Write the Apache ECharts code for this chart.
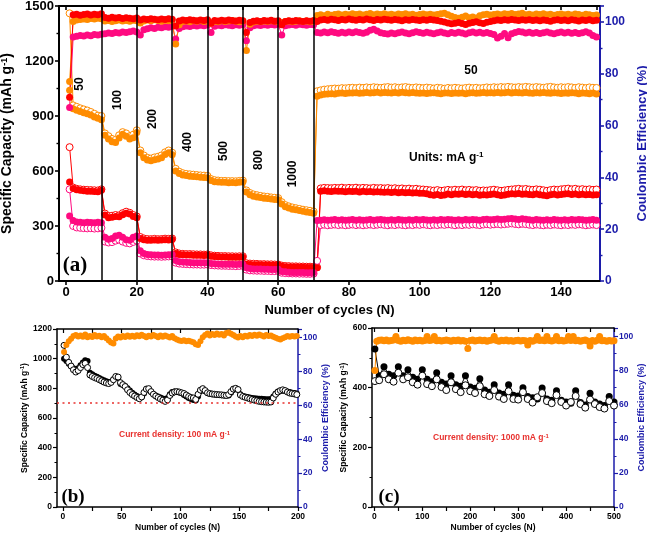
<!DOCTYPE html>
<html><head><meta charset="utf-8">
<script src="https://cdn.jsdelivr.net/npm/echarts@6.0.0/dist/echarts.min.js"></script>
<style>html,body{margin:0;padding:0;background:#fff}#c{width:647px;height:536px}</style>
</head><body><div id="c"></div>
<script>
// ---------- Panel (a): rate capability, cycles 1..150 ----------
const cyclesA = []; for (let i = 1; i <= 150; i++) cyclesA.push(i);
const rateLines = [10, 20, 30, 40, 50, 60, 70];
const rateLabels = ['50', '100', '200', '400', '500', '800', '1000'];
const xTicksA = [0, 20, 40, 60, 80, 100, 120, 140];
const xTopTicksA = [0,10,20,30,40,50,60,70,80,90,100,110,120,130,140,150];

const orangeCharge = [1040,940,932,925,918,912,905,895,888,880,
795,775,760,755,780,800,790,775,782,810,
700,672,660,656,662,666,672,690,700,688,
600,586,578,575,572,570,568,566,565,563,
548,542,540,538,538,536,537,536,538,540,
485,470,462,458,455,452,450,447,445,443,
420,405,398,392,388,384,380,377,374,370,
1008,1015,1018,1020,1022,1020,1024,1025,1023,1026,
1025,1027,1024,1026,1028,1025,1027,1029,1026,1028,
1027,1025,1028,1026,1029,1027,1025,1028,1026,1024,
1026,1023,1025,1027,1024,1022,1025,1026,1023,1025,
1024,1026,1022,1025,1027,1024,1026,1028,1025,1027,
1026,1028,1025,1027,1029,1026,1028,1027,1025,1028,
1026,1024,1027,1025,1028,1026,1024,1027,1025,1023,
1026,1024,1027,1025,1022,1026,1024,1021,1025,1020];
const orangeDischarge = [1460,958,950,942,936,930,922,912,902,900,
805,790,775,770,795,812,805,790,798,822,
712,685,672,668,674,678,685,702,712,700,
612,596,588,584,582,580,578,576,575,573,
556,550,548,546,546,545,545,544,546,548,
494,480,472,468,464,461,459,456,454,452,
430,414,407,401,397,393,389,386,383,379,
1035,1040,1044,1046,1048,1050,1049,1052,1051,1053,
1054,1052,1055,1053,1056,1054,1057,1055,1053,1056,
1058,1055,1057,1054,1056,1058,1055,1053,1056,1054,
1052,1055,1053,1050,1054,1052,1049,1053,1051,1054,
1052,1050,1053,1055,1052,1054,1051,1053,1056,1054,
1057,1055,1058,1056,1059,1057,1055,1058,1056,1059,
1057,1055,1058,1056,1054,1057,1059,1056,1054,1057,
1055,1058,1056,1053,1057,1055,1052,1056,1054,1053];
const orangeCE = [77,100.2,100.8,101.0,101.2,101.0,101.4,101.2,101.5,101.3,
100.4,100.6,100.2,100.5,100.8,100.4,100.6,100.3,100.7,100.5,
99.6,100.4,100.8,100.5,100.9,100.6,100.3,100.7,100.5,100.8,
91.5,99.0,100.2,100.4,100.1,100.5,100.3,100.6,100.2,100.4,
99.5,100.3,100.1,100.5,100.2,100.4,100.6,100.3,100.1,100.4,
89.0,99.2,100.0,100.3,100.1,100.4,100.2,100.5,100.3,100.1,
99.8,100.2,100.4,100.1,100.3,100.5,100.2,100.4,100.1,100.3,
102.5,102.8,102.4,103.0,102.6,102.9,103.1,102.7,103.0,102.8,
103.2,102.9,103.1,102.7,103.0,103.3,102.8,103.1,102.9,103.2,
102.8,103.0,102.7,103.1,102.9,103.2,102.8,103.0,102.6,102.9,
103.1,102.8,103.0,102.7,102.9,103.2,103.4,102.8,102.2,101.8,
101.5,101.9,102.3,101.7,102.0,101.6,102.4,102.8,103.0,102.7,
102.9,103.1,102.8,103.2,103.0,103.3,102.9,103.1,103.4,102.8,
103.0,102.7,103.1,102.9,103.2,102.8,103.0,102.6,102.9,103.1,
102.8,103.0,102.7,103.1,102.9,102.6,103.0,102.8,102.5,102.7];

const redCharge = [540,505,498,495,492,490,490,488,487,495,
360,345,348,352,350,362,370,365,352,345,
232,225,222,222,224,222,223,225,224,226,
150,145,143,142,142,141,140,140,139,140,
135,133,132,131,131,130,130,129,130,130,
92,90,89,88,88,87,87,86,86,86,
80,78,77,76,76,75,75,74,74,73,
72,490,492,490,488,491,489,490,487,489,
488,490,486,489,487,488,485,487,486,484,
486,483,485,482,484,481,483,480,482,479,
478,476,470,468,472,466,469,474,471,475,
473,476,472,474,470,473,468,471,469,472,
475,471,466,469,473,476,474,477,473,475,
472,470,474,471,468,465,470,473,469,472,
474,476,472,475,471,473,470,472,469,471];
const redDischarge = [730,510,503,500,498,497,496,495,494,500,
368,355,356,360,358,370,378,372,360,352,
240,232,229,228,230,228,229,231,230,232,
156,150,148,147,147,146,145,145,144,145,
140,138,137,136,136,135,135,134,135,135,
97,95,94,93,92,92,91,91,90,90,
84,82,81,80,80,79,79,78,78,77,
75,505,508,507,506,508,507,509,506,508,
507,509,506,508,507,505,508,506,507,505,
507,504,506,503,505,502,504,501,503,500,
499,497,495,493,496,492,494,497,495,498,
496,499,495,497,494,496,492,494,493,496,
498,495,492,494,497,499,501,503,500,502,
499,497,500,498,495,492,496,499,497,500,
502,504,500,503,499,501,498,500,497,499];
const redCE = [71,102.8,103.0,102.6,102.9,103.1,102.7,103.0,102.8,103.2,
101.8,101.5,101.9,101.6,101.8,101.4,101.7,101.5,101.3,101.6,
100.8,101.2,101.0,101.3,101.1,100.9,101.2,101.0,101.3,101.1,
98.5,100.4,100.8,100.6,100.9,100.7,100.5,100.8,100.6,100.9,
99.5,100.6,100.4,100.7,100.5,100.8,100.6,100.4,100.7,100.5,
96.0,99.8,100.3,100.5,100.2,100.6,100.4,100.7,100.3,100.5,
99.0,100.2,100.5,100.3,100.6,100.4,100.2,100.5,100.3,100.6,
100.2,100.8,101.0,100.7,101.1,100.9,100.6,101.0,100.8,101.2,
100.9,100.7,101.0,100.8,101.2,100.9,100.6,101.0,100.8,101.1,
100.9,100.7,101.0,100.8,100.5,100.9,100.7,101.0,100.8,100.6,
100.9,100.7,101.0,100.8,100.6,100.3,100.0,99.6,99.3,99.5,
99.8,99.4,99.1,99.5,99.8,100.1,99.7,99.4,99.9,100.2,
100.5,100.8,100.6,100.9,100.7,101.0,100.8,100.6,100.9,100.7,
100.9,100.6,100.8,100.5,100.8,100.6,100.3,100.7,100.9,100.6,
100.8,100.5,100.9,100.7,100.4,100.8,100.6,100.9,100.5,100.7];

const pinkCharge = [355,330,322,320,318,320,319,318,320,318,
238,228,232,245,250,238,225,222,238,245,
165,150,145,143,142,142,141,142,143,145,
112,105,103,102,101,100,100,99,99,100,
96,94,93,92,92,91,91,90,91,92,
72,68,66,65,65,64,64,63,63,64,
52,50,48,47,47,46,46,45,45,46,
330,332,334,331,333,335,332,334,331,333,
335,332,334,331,333,335,332,334,336,333,
331,334,332,335,333,331,334,332,335,333,
336,333,331,334,332,335,333,336,334,331,
334,332,335,333,336,334,332,335,337,334,
336,338,335,337,339,341,338,336,339,337,
334,332,335,333,331,334,332,335,333,331,
334,332,335,333,336,334,331,333,335,332];
const pinkDischarge = [500,300,292,290,288,287,288,286,287,290,
215,210,212,220,225,215,208,205,213,220,
150,140,136,134,133,133,132,133,134,135,
100,95,93,92,91,90,90,89,89,90,
87,85,84,83,83,82,82,81,82,83,
62,58,57,56,56,55,55,54,54,55,
45,43,42,41,41,40,40,39,39,40,
110,305,307,304,306,308,305,307,304,306,
308,305,307,304,306,308,305,307,309,306,
304,307,305,308,306,304,307,305,308,306,
309,306,304,307,305,308,306,309,307,304,
307,305,308,306,309,307,305,308,310,307,
309,311,308,310,312,314,311,309,312,310,
307,305,308,306,304,307,305,308,306,304,
307,305,308,306,309,307,304,306,308,305];
const pinkCE = [67,94.2,94.5,94.8,94.6,95.0,94.7,95.2,95.0,95.3,
95.5,95.8,95.6,96.0,95.8,96.2,96.0,96.3,96.5,96.2,
95.0,97.0,97.4,97.8,97.5,98.0,97.8,98.2,98.0,98.4,
93.5,97.5,98.2,98.5,98.3,98.7,98.5,98.8,98.6,98.9,
96.0,98.4,98.8,98.6,99.0,98.8,98.6,99.0,98.8,99.1,
92.8,97.8,98.6,98.9,98.7,99.0,98.8,99.1,98.9,99.2,
95.0,98.6,98.9,99.1,98.8,99.2,99.0,98.8,99.1,99.0,
96.0,95.8,96.2,95.9,96.3,96.0,95.7,96.1,95.8,96.2,
95.9,96.3,96.0,95.7,96.1,96.8,97.2,96.5,95.9,95.6,
95.4,95.8,95.5,95.9,96.2,95.8,95.5,95.9,96.3,96.0,
95.7,96.1,95.8,95.5,95.9,96.2,95.8,95.5,96.0,95.7,
96.1,95.8,95.4,95.9,96.2,95.8,96.1,95.7,96.0,95.6,
95.2,93.8,94.5,95.6,93.9,95.5,96.0,96.4,96.2,95.8,
96.1,95.7,96.0,95.6,95.9,96.2,95.8,95.5,95.9,96.2,
95.8,96.1,95.7,96.0,95.6,95.9,96.3,95.8,94.8,94.2];

// ---------- Panel (b): 100 mA/g, cycles 1..199 (every 2nd) ----------
const cyclesB = []; for (let i = 1; i < 200; i += 2) cyclesB.push(i);
const xLabelsB = [0, 50, 100, 150, 200];
const xTicksB = [0, 25, 50, 75, 100, 125, 150, 175, 200];
const refLineB = 700;
const chargeB = [1000,985,965,950,935,925,935,955,975,990,
985,905,895,885,878,870,862,855,848,842,
845,862,878,870,830,822,815,800,785,770,
758,748,738,740,765,790,795,775,762,752,
745,738,732,728,735,760,775,778,775,772,
768,755,745,735,728,722,718,745,780,792,
780,768,762,760,758,756,755,754,752,750,
752,770,788,795,790,760,748,745,742,738,
735,733,732,730,729,728,727,726,728,745,
765,778,782,785,782,778,775,770,768,765];
const dischargeB = [1090,1010,975,950,925,910,920,940,960,968,
940,890,880,872,866,858,850,842,836,832,
840,858,880,876,838,825,812,790,772,758,
748,738,730,742,772,795,798,778,760,748,
738,728,720,712,722,752,768,776,778,775,
770,765,755,745,738,735,725,760,788,798,
785,770,765,762,760,758,757,756,754,752,
758,778,795,800,792,755,745,740,735,730,
725,720,716,712,710,708,707,706,708,735,
760,775,785,790,785,775,768,765,762,758];
const ceB = [91.5,95.5,97.8,99.2,100.8,101.5,100.6,101.2,100.4,101.8,
100.2,100.9,100.3,101.4,100.6,101.0,100.2,100.8,99.6,98.2,
97.0,96.5,99.4,100.6,100.0,100.9,100.3,101.2,100.5,101.0,
100.4,101.3,100.7,101.6,100.8,100.2,101.0,100.6,101.4,100.8,
100.2,101.1,100.5,101.2,100.6,100.0,100.8,99.6,98.8,98.2,
97.9,98.3,97.8,98.1,97.6,97.2,96.0,95.6,97.8,100.2,
101.5,102.3,101.2,102.0,101.4,102.4,101.6,102.0,101.2,102.6,
103.0,102.2,101.4,100.6,100.0,100.8,100.2,101.0,100.6,101.4,
100.8,101.6,101.0,101.8,101.2,100.6,101.4,100.8,101.2,100.4,
99.8,99.2,98.8,99.6,100.2,100.8,100.4,100.8,100.6,100.8];

// ---------- Panel (c): 1000 mA/g, cycles 1..500 ----------
const cyclesC = [1,10,20,30,40,50,60,70,80,90,100,110,120,130,140,150,160,170,180,190,200,
210,220,230,240,250,260,270,280,290,300,310,320,330,340,350,360,370,380,390,400,
410,420,430,440,450,460,470,480,490,500];
const cyclesCE = [1]; for (let i = 5; i <= 500; i += 5) cyclesCE.push(i);
const xLabelsC = [0, 100, 200, 300, 400, 500];
const xTicksC = [0,50,100,150,200,250,300,350,400,450,500];
const chargeC = [530,440,470,445,440,470,440,460,435,428,460,428,420,450,418,412,440,410,405,440,402,
398,430,392,385,410,382,378,410,375,372,400,370,366,362,399,362,358,390,358,352,
348,390,350,342,381,352,345,340,370,352];
const dischargeC = [422,425,445,428,420,450,428,435,418,410,440,412,405,428,402,392,418,395,385,408,388,
382,405,378,372,392,370,362,388,362,360,385,362,350,368,382,355,348,375,352,340,
352,372,345,333,360,345,335,330,355,340];
const ceC = [80,
97.2,97.8,98.0,97.5,97.9,97.4,97.7,97.9,100.0,97.6,
97.3,97.8,97.5,98.1,97.6,97.3,97.9,97.5,97.8,97.4,
97.7,100.0,97.6,97.9,100.0,97.5,97.8,97.4,97.7,98.0,
97.6,97.3,97.8,97.5,97.9,97.4,97.7,97.3,93.0,97.6,
97.9,97.4,97.7,98.0,97.5,97.8,97.3,97.7,97.9,100.0,
97.6,97.3,97.8,97.5,97.9,97.4,97.7,97.3,97.6,97.8,
97.4,97.7,97.5,95.0,97.6,97.3,97.8,100.0,97.6,97.9,
97.5,100.0,97.7,97.4,97.8,100.0,97.5,97.8,97.4,97.7,
100.0,97.6,100.0,97.5,97.8,97.3,97.7,97.9,97.4,94.5,
97.6,97.3,97.8,100.0,97.5,97.7,97.3,97.6,97.4,97.5];

// ---------- build ----------
const ORANGE = '#ff8c00', RED = '#ff0000', PINK = '#ff0a80', BLUE = '#1c1caa';
const FF = '"Liberation Sans", Arial, sans-serif';
const pair = (xs, ys) => ys.map((v, i) => [xs[i], v]);
const plain = v => String(v);

function ser(xi, yi, xs, ys, color, filled, size, z) {
  return {
    type: 'line', xAxisIndex: xi, yAxisIndex: yi, data: pair(xs, ys),
    symbol: 'circle', symbolSize: size, showSymbol: true, z: z || 2,
    lineStyle: { color: color, width: 1 },
    itemStyle: filled ? { color: color } : { color: '#fff', borderColor: color, borderWidth: 1 },
    animation: false, silent: true
  };
}

function xAx(grid, min, max, labels, ticks, fs, lw, name, gap) {
  return {
    gridIndex: grid, type: 'value', min: min, max: max, position: 'bottom',
    axisLine: { show: true, onZero: false, lineStyle: { color: '#000', width: lw } },
    axisTick: { show: true, inside: false, length: 4, customValues: ticks, lineStyle: { color: '#000', width: lw * 0.8 } },
    axisLabel: { customValues: labels, formatter: plain, color: '#000', fontSize: fs, fontWeight: 'bold', fontFamily: FF, margin: 5 },
    splitLine: { show: false },
    name: name, nameLocation: 'middle', nameGap: gap,
    nameTextStyle: { color: '#000', fontSize: fs, fontWeight: 'bold', fontFamily: FF }
  };
}
function xTop(grid, min, max, ticks, lw) {
  return {
    gridIndex: grid, type: 'value', min: min, max: max, position: 'top',
    axisLine: { show: true, onZero: false, lineStyle: { color: '#000', width: lw } },
    axisTick: { show: true, inside: true, length: 4, customValues: ticks, lineStyle: { color: '#000', width: lw * 0.8 } },
    axisLabel: { show: false }, splitLine: { show: false }
  };
}
function yAx(grid, pos, min, max, interval, color, fs, lw, name, nfs, gap, hideMax) {
  return {
    gridIndex: grid, type: 'value', position: pos, min: min, max: max, interval: interval,
    axisLine: { show: true, onZero: false, lineStyle: { color: color, width: lw } },
    axisTick: { show: true, inside: false, length: 4, lineStyle: { color: color, width: lw * 0.8 } },
    minorTick: { show: true, splitNumber: 2, length: 2.5, lineStyle: { color: color, width: lw * 0.7 } },
    axisLabel: { formatter: plain, color: color, fontSize: fs, fontWeight: 'bold', fontFamily: FF, margin: 5, showMaxLabel: !hideMax },
    splitLine: { show: false },
    name: name, nameLocation: 'middle', nameGap: gap, nameRotate: 90,
    nameTextStyle: { color: color, fontSize: nfs, fontWeight: 'bold', fontFamily: FF,
      rich: { sup: { color: color, fontSize: nfs * 0.65, fontWeight: 'bold', fontFamily: FF, verticalAlign: 'top', padding: [0, 0, nfs * 0.45, 0] } } }
  };
}

const series = [
  ser(0, 0, cyclesA, orangeDischarge, ORANGE, false, 7),
  ser(0, 0, cyclesA, redDischarge, RED, false, 7),
  ser(0, 0, cyclesA, pinkDischarge, PINK, false, 7),
  ser(0, 0, cyclesA, orangeCharge, ORANGE, true, 7),
  ser(0, 0, cyclesA, redCharge, RED, true, 7),
  ser(0, 0, cyclesA, pinkCharge, PINK, true, 7),
  ser(0, 1, cyclesA, pinkCE, PINK, true, 7),
  ser(0, 1, cyclesA, orangeCE, ORANGE, true, 7),
  ser(0, 1, cyclesA, redCE, RED, true, 7),
  ser(2, 2, cyclesB, chargeB, '#000', true, 6),
  ser(2, 2, cyclesB, dischargeB, '#000', false, 6),
  ser(2, 3, cyclesB, ceB, ORANGE, true, 6),
  ser(4, 4, cyclesC, chargeC, '#000', true, 7),
  ser(4, 4, cyclesC, dischargeC, '#000', false, 7),
  ser(4, 5, cyclesCE, ceC, ORANGE, true, 7)
];
// vertical separators of the current-rate steps
series.push({ type: 'line', xAxisIndex: 0, yAxisIndex: 0, data: [], z: 10, silent: true,
  markLine: { silent: true, symbol: 'none', animation: false, label: { show: false },
    lineStyle: { color: '#000', width: 1.5, type: 'solid' },
    data: rateLines.map(v => ({ xAxis: v })) } });
// red dotted reference line in (b)
series.push({ type: 'line', xAxisIndex: 2, yAxisIndex: 2, data: [], z: 1, silent: true,
  markLine: { silent: true, symbol: 'none', animation: false, label: { show: false },
    lineStyle: { color: '#e8322f', width: 1.6, type: [2, 3.5] },
    data: [{ yAxis: refLineB }] } });

const capName = 'Specific Capacity (mAh g{sup|-1})';
const ceName = 'Coulombic Efficiency (%)';

const rotTexts = [[80, 84], [117.5, 100], [152.5, 119], [187.5, 142], [223.5, 151], [259, 160], [292.5, 174]];
const graphic = rotTexts.map((p, i) => ({
  type: 'text', x: p[0], y: p[1], rotation: Math.PI / 2, silent: true,
  style: { text: rateLabels[i], fill: '#000', font: 'bold 12px ' + FF, align: 'center', verticalAlign: 'middle', textAlign: 'center', textVerticalAlign: 'middle' }
}));
graphic.push(
  { type: 'text', x: 471, y: 71, silent: true, style: { text: '50', fill: '#000', font: 'bold 12px ' + FF, align: 'center', verticalAlign: 'middle' } },
  { type: 'text', x: 409, y: 158, silent: true, style: { text: 'Units: mA g{s|-1}', fill: '#000', font: 'bold 12px ' + FF, align: 'left', verticalAlign: 'middle',
      rich: { s: { fontSize: 8, fontWeight: 'bold', fontFamily: FF, verticalAlign: 'top', padding: [0, 0, 6, 0], fill: '#000' } } } },
  { type: 'text', x: 75, y: 266, silent: true, style: { text: '(a)', fill: '#000', font: 'bold 21px "Liberation Serif", "Times New Roman", serif', align: 'center', verticalAlign: 'middle' } },
  { type: 'text', x: 73, y: 497, silent: true, style: { text: '(b)', fill: '#000', font: 'bold 19px "Liberation Serif", "Times New Roman", serif', align: 'center', verticalAlign: 'middle' } },
  { type: 'text', x: 389, y: 497, silent: true, style: { text: '(c)', fill: '#000', font: 'bold 19px "Liberation Serif", "Times New Roman", serif', align: 'center', verticalAlign: 'middle' } },
  { type: 'text', x: 119, y: 435, silent: true, style: { text: 'Current density: 100 mA g{s|-1}', fill: '#e8322f', font: 'bold 8.5px ' + FF, align: 'left', verticalAlign: 'middle',
      rich: { s: { fontSize: 6, fontWeight: 'bold', fontFamily: FF, verticalAlign: 'top', padding: [0, 0, 4, 0], fill: '#e8322f' } } } },
  { type: 'text', x: 433, y: 438, silent: true, style: { text: 'Current density: 1000 mA g{s|-1}', fill: '#e8322f', font: 'bold 8.5px ' + FF, align: 'left', verticalAlign: 'middle',
      rich: { s: { fontSize: 6, fontWeight: 'bold', fontFamily: FF, verticalAlign: 'top', padding: [0, 0, 4, 0], fill: '#e8322f' } } } }
);

const option = {
  animation: false,
  backgroundColor: '#fff',
  textStyle: { fontFamily: FF },
  grid: [
    { left: 59, top: 6, width: 541, height: 275, containLabel: false, outerBoundsMode: 'none' },
    { left: 57, top: 329, width: 241, height: 178, containLabel: false, outerBoundsMode: 'none' },
    { left: 372, top: 328, width: 242, height: 179, containLabel: false, outerBoundsMode: 'none' }
  ],
  xAxis: [
    xAx(0, -2, 151, xTicksA, xTicksA, 13, 2, 'Number of cycles (N)', 21),
    xTop(0, -2, 151, xTopTicksA, 2),
    xAx(1, -5, 200, xLabelsB, xTicksB, 8.5, 1.5, 'Number of cycles (N)', 16),
    xTop(1, -5, 200, xTicksB, 1.5),
    xAx(2, -5, 500, xLabelsC, xTicksC, 8.5, 1.5, 'Number of cycles (N)', 16),
    xTop(2, -5, 500, xTicksC, 1.5)
  ],
  yAxis: [
    yAx(0, 'left', 0, 1500, 300, '#000', 13, 2, capName, 14, 40, false),
    yAx(0, 'right', 0, 106.2, 20, BLUE, 12, 2, ceName, 13, 30, true),
    yAx(1, 'left', 0, 1200, 200, '#000', 8.5, 1.5, capName, 8.5, 27, false),
    yAx(1, 'right', 0, 105, 20, BLUE, 8.5, 1.5, ceName, 9, 21, true),
    yAx(2, 'left', 0, 600, 200, '#000', 8.5, 1.5, capName, 8.5, 23, false),
    yAx(2, 'right', 0, 105, 20, BLUE, 8.5, 1.5, ceName, 9, 21, true)
  ],
  series: series,
  graphic: graphic
};

const chart = echarts.init(document.getElementById('c'), null, { renderer: 'canvas' });
chart.setOption(option);
</script></body></html>
